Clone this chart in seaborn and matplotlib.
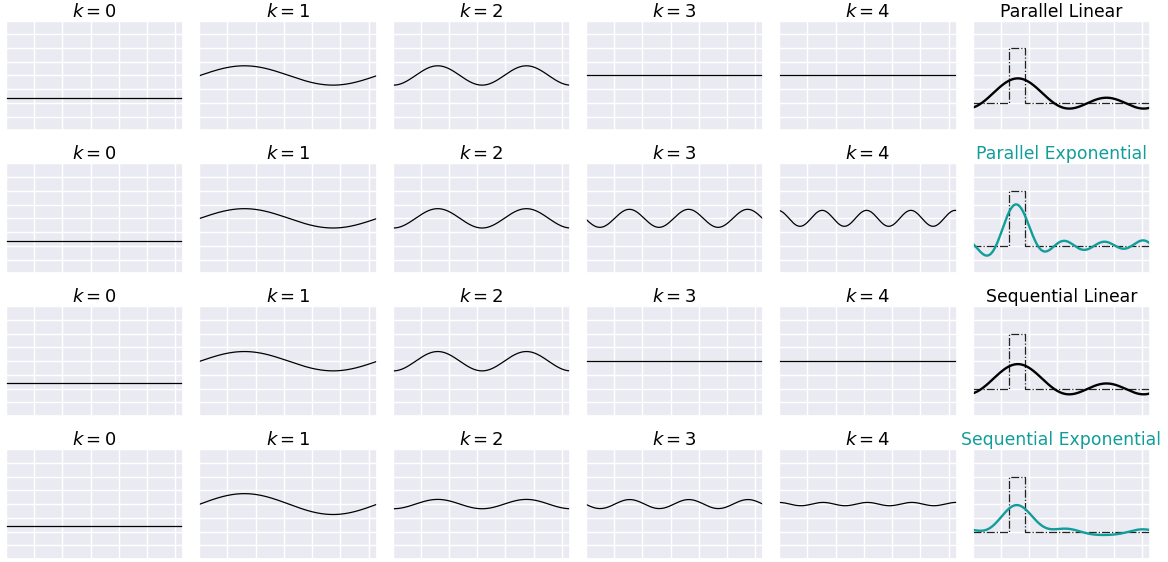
import numpy as np
import pandas as pd
import matplotlib
matplotlib.use("Agg")
import matplotlib.pyplot as plt
import seaborn as sns

# ---- data ----
row_titles = ["Parallel Linear", "Parallel Exponential", "Sequential Linear", "Sequential Exponential"]
title_colors = ["black", "#119e9b", "black", "#119e9b"]
ks = [0, 1, 2, 3, 4]
# constant (k=0) term per row
k0_values = [-0.405, -0.405, -0.405, -0.405]
# amplitudes of k=1..4 per row
amp_parallel_linear = [0.176, 0.176, 0.0, 0.0]
amp_parallel_exp = [0.176, 0.176, 0.164, 0.145]
amp_sequential_linear = [0.176, 0.176, 0.0, 0.0]
amp_sequential_exp = [0.190, 0.085, 0.082, 0.030]
# peak positions (phase) of k=1..4 per row
phase_parallel_linear = [1.60, 1.60, 1.55, 1.55]
phase_parallel_exp = [1.60, 1.60, 1.54, 1.52]
phase_sequential_linear = [1.60, 1.60, 1.55, 1.55]
phase_sequential_exp = [1.60, 1.60, 1.55, 1.55]
# target rectangle pulse
rect_edges = [1.30, 1.87]
rect_low, rect_high = -0.5, 0.5

amps = [amp_parallel_linear, amp_parallel_exp, amp_sequential_linear, amp_sequential_exp]
phases = [phase_parallel_linear, phase_parallel_exp, phase_sequential_linear, phase_sequential_exp]

sns.set_theme(style="darkgrid")
plt.rcParams['font.family'] = ['DejaVu Sans']

fig, axes = plt.subplots(4, 6, figsize=(11.68, 5.62), dpi=100)
fig.subplots_adjust(left=0.005, right=0.9846, top=0.9635, bottom=0.0053,
                    wspace=0.09, hspace=0.30)

x = np.linspace(0, 2 * np.pi, 600)
rx = [0, rect_edges[0], rect_edges[0], rect_edges[1], rect_edges[1], 2 * np.pi]
ry = [rect_low, rect_low, rect_high, rect_high, rect_low, rect_low]

def style(ax):
    ax.set_xlim(0, 2 * np.pi)
    ax.set_ylim(-1, 1)
    ax.set_xticks(np.arange(0, 7))
    ax.set_yticks(np.arange(-1, 1.01, 0.25))
    ax.set_xticklabels([])
    ax.set_yticklabels([])
    ax.tick_params(length=0)
    ax.set_xlabel("")
    ax.set_ylabel("")

for r in range(4):
    total = np.zeros_like(x)
    for c, k in enumerate(ks):
        ax = axes[r, c]
        if k == 0:
            y = np.full_like(x, k0_values[r])
        else:
            y = amps[r][k - 1] * np.cos(k * (x - phases[r][k - 1]))
        total = total + y
        sns.lineplot(x=x, y=y, ax=ax, color="black", lw=0.9)
        ax.set_title(f"$k = {k}$", fontsize=13, pad=2, color="black")
        style(ax)
    ax = axes[r, 5]
    sns.lineplot(x=rx, y=ry, ax=ax, color="#222222", lw=0.9, linestyle="-.",
                 estimator=None, sort=False)
    sns.lineplot(x=x, y=total, ax=ax, color=title_colors[r], lw=1.7)
    ax.set_title(row_titles[r], fontsize=12.4, pad=2, color=title_colors[r])
    style(ax)

fig.savefig("out.png", dpi=100)
